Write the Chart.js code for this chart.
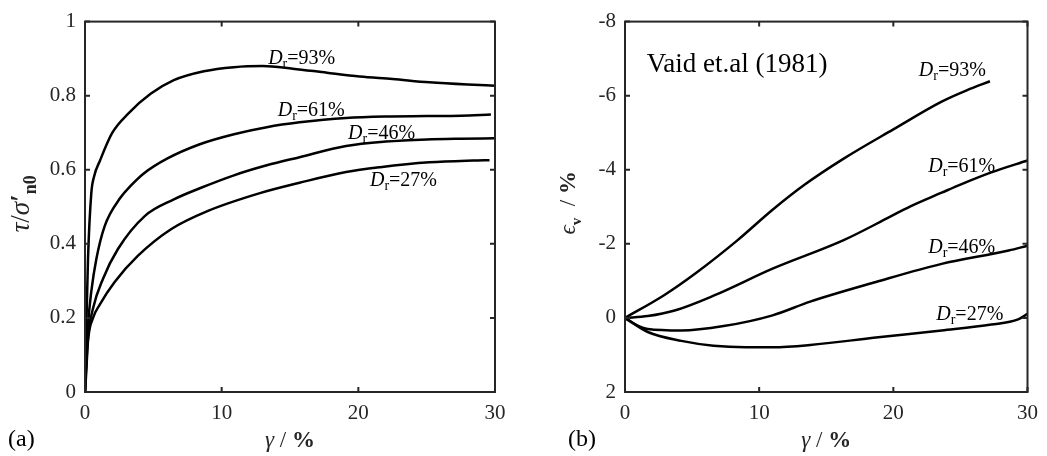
<!DOCTYPE html>
<html>
<head>
<meta charset="utf-8">
<script src="https://cdn.jsdelivr.net/npm/chart.js@4.4.1/dist/chart.umd.min.js"></script>
<style>
  html, body { margin: 0; padding: 0; background: #fff; }
  #wrap { position: relative; width: 1047px; height: 456px; overflow: hidden; }
  canvas { position: absolute; top: 0; }
  #chartA { left: 0; }
  #chartB { left: 523px; }
</style>
</head>
<body>
<div id="wrap">
  <canvas id="chartA" width="523" height="456"></canvas>
  <canvas id="chartB" width="524" height="456"></canvas>
</div>
<script>
// Relative densities of the four test series
const relDensity = [93, 61, 46, 27];

// (a) stress ratio tau / sigma'_n0 against shear strain gamma (%)
const gammaA93 = [0, 0.02, 0.1, 0.22, 0.46, 0.65, 1.1, 2.0, 3.2, 4.8, 6.5, 8.7, 10.9, 13.0, 15.2, 17.7, 20.1, 22.5, 25.2, 28.0, 30];
const tauA93   = [0, 0.04, 0.18, 0.36, 0.536, 0.58, 0.625, 0.70, 0.753, 0.805, 0.842, 0.866, 0.877, 0.880, 0.873, 0.862, 0.852, 0.845, 0.836, 0.830, 0.827];
const gammaA61 = [0, 0.05, 0.22, 0.46, 0.83, 1.44, 2.6, 3.3, 4.3, 6.0, 8.4, 10.9, 13.3, 15.7, 19.1, 22.0, 25.0, 27.5, 29.7];
const tauA61   = [0, 0.05, 0.18, 0.271, 0.359, 0.448, 0.525, 0.555, 0.59, 0.63, 0.669, 0.696, 0.715, 0.728, 0.740, 0.744, 0.745, 0.746, 0.749];
const gammaA46 = [0, 0.06, 0.22, 0.59, 1.32, 2.41, 4.37, 6.5, 8.4, 10.9, 13.3, 15.7, 19.1, 22.0, 25.0, 27.5, 30];
const tauA46   = [0, 0.05, 0.146, 0.226, 0.306, 0.386, 0.475, 0.52, 0.55, 0.585, 0.612, 0.634, 0.664, 0.676, 0.682, 0.684, 0.685];
const gammaA27 = [0, 0.07, 0.22, 0.59, 1.08, 2.17, 3.88, 6.32, 9.0, 12.8, 15.7, 19.1, 21.6, 25.2, 28.4, 29.6];
const tauA27   = [0, 0.04, 0.138, 0.2, 0.236, 0.297, 0.368, 0.44, 0.489, 0.537, 0.565, 0.594, 0.607, 0.62, 0.625, 0.626];

// (b) volumetric strain epsilon_v (%) against shear strain gamma (%)
const gammaB93 = [0, 2.94, 5.39, 8.33, 11.0, 13.4, 16.3, 20.0, 23.6, 25.5, 27.2];
const epsB93   = [0, -0.62, -1.24, -2.08, -2.92, -3.6, -4.3, -5.09, -5.84, -6.15, -6.39];
const gammaB61 = [0, 1.7, 3.7, 6.6, 11.0, 16.3, 19.7, 21.2, 23.6, 25.0, 27.3, 30];
const epsB61   = [0, -0.05, -0.2, -0.6, -1.33, -2.1, -2.72, -3.0, -3.38, -3.6, -3.93, -4.25];
const gammaB46 = [0, 0.8, 1.7, 4.2, 7.35, 11.0, 13.8, 18.7, 23.6, 28.6, 30];
const epsB46   = [0, 0.18, 0.3, 0.34, 0.22, -0.07, -0.44, -0.97, -1.46, -1.82, -1.95];
const gammaB27 = [0, 1.7, 4.2, 6.6, 9.0, 11.0, 13.8, 18.7, 23.6, 27.3, 29.3, 30];
const epsB27   = [0, 0.38, 0.62, 0.75, 0.79, 0.79, 0.73, 0.53, 0.34, 0.18, 0.04, -0.11];

// Tick values
const shearTicks  = [0, 10, 20, 30];
const stressTicks = [0, 0.2, 0.4, 0.6, 0.8, 1];
const volTicks    = [-8, -6, -4, -2, 0, 2];

const FONT = "'Liberation Serif', 'Times New Roman', 'DejaVu Serif', serif";
const AXIS_COLOR = '#262626';

function series(xs, ys) {
  return {
    data: xs.map((x, i) => ({ x: x, y: ys[i] })),
    borderColor: '#000',
    borderWidth: 2.5,
    pointRadius: 0,
    fill: false,
    cubicInterpolationMode: 'monotone'
  };
}

function fontOf(s) {
  return (s.style || '') + ' ' + (s.weight || '') + ' ' + s.size + 'px ' + FONT;
}

// Draw a run of differently styled pieces of text one after another
function drawRich(ctx, segs, x, y, align) {
  let total = 0;
  segs.forEach(s => { ctx.font = fontOf(s); s.w = ctx.measureText(s.text).width; total += s.w; });
  let cx = align === 'center' ? x - total / 2 : x;
  segs.forEach(s => {
    ctx.font = fontOf(s);
    ctx.fillText(s.text, cx, y + (s.dy || 0));
    cx += s.w;
  });
}

function densityLabel(d) {
  return [
    { text: 'D', style: 'italic', size: 20 },
    { text: 'r', size: 14, dy: 4 },
    { text: '=' + d + '%', size: 20 }
  ];
}

// Box, inward tick marks, titles and curve labels
const framePlugin = {
  id: 'frame',
  afterDatasetsDraw(chart, args, opts) {
    const { ctx, chartArea: a, scales: { x, y } } = chart;
    const len = 5;
    ctx.save();
    ctx.strokeStyle = AXIS_COLOR;
    ctx.lineWidth = 2;
    ctx.beginPath();
    x.ticks.forEach(t => {
      const p = x.getPixelForValue(t.value);
      ctx.moveTo(p, a.bottom); ctx.lineTo(p, a.bottom - len);
      ctx.moveTo(p, a.top); ctx.lineTo(p, a.top + len);
    });
    y.ticks.forEach(t => {
      const p = y.getPixelForValue(t.value);
      ctx.moveTo(a.left, p); ctx.lineTo(a.left + len, p);
      ctx.moveTo(a.right, p); ctx.lineTo(a.right - len, p);
    });
    ctx.stroke();
    ctx.strokeRect(a.left, a.top, a.right - a.left, a.bottom - a.top);
    ctx.restore();
  },
  afterDraw(chart, args, opts) {
    const { ctx, chartArea: a, scales: { x, y } } = chart;
    ctx.save();
    ctx.textBaseline = 'alphabetic';
    ctx.textAlign = 'left';
    ctx.fillStyle = '#000';

    // labels placed in data coordinates
    (opts.notes || []).forEach(n => {
      drawRich(ctx, n.segs, x.getPixelForValue(n.at[0]), y.getPixelForValue(n.at[1]), 'left');
    });

    ctx.fillStyle = AXIS_COLOR;
    // x-axis title
    drawRich(ctx, [
      { text: 'γ', style: 'italic', size: 23 },
      { text: ' / ', size: 23 },
      { text: '%', weight: 'bold', size: 23 }
    ], (a.left + a.right) / 2, a.bottom + opts.xTitleGap, 'center');

    // y-axis title, rotated
    ctx.save();
    ctx.translate(a.left - opts.yTitleGap, (a.top + a.bottom) / 2 + opts.yTitleShift);
    ctx.rotate(-Math.PI / 2);
    drawRich(ctx, opts.yTitle, 0, 0, 'center');
    ctx.restore();

    // panel letter
    ctx.fillStyle = '#000';
    drawRich(ctx, [{ text: opts.panel, size: 24 }], opts.panelX, opts.panelY, 'left');
    ctx.restore();
  }
};

function axisTicks(values) {
  return s => { s.ticks = values.map(v => ({ value: v })); };
}

const tickFont = { family: FONT, size: 21 };
const plainNumber = v => String(Number(Number(v).toFixed(2)));

function makeChart(id, datasets, cfg) {
  return new Chart(document.getElementById(id), {
    type: 'line',
    data: { datasets: datasets },
    options: {
      responsive: false,
      animation: false,
      devicePixelRatio: 1,
      layout: { padding: { top: 15, right: cfg.padRight, left: 0, bottom: 0 } },
      plugins: {
        legend: { display: false },
        tooltip: { enabled: false },
        frame: cfg.frame
      },
      scales: {
        x: {
          type: 'linear', min: 0, max: 30,
          afterBuildTicks: axisTicks(shearTicks),
          afterFit: s => { s.height = 64; },
          grid: { display: false, drawTicks: false },
          border: { display: false },
          ticks: { padding: 9, color: AXIS_COLOR, font: tickFont, maxRotation: 0, autoSkip: false, callback: plainNumber }
        },
        y: {
          type: 'linear', min: cfg.yMin, max: cfg.yMax, reverse: cfg.reverse,
          afterBuildTicks: axisTicks(cfg.yTicks),
          afterFit: s => { s.width = cfg.yWidth; },
          grid: { display: false, drawTicks: false },
          border: { display: false },
          ticks: { padding: 9, color: AXIS_COLOR, font: tickFont, autoSkip: false, callback: plainNumber }
        }
      }
    },
    plugins: [framePlugin]
  });
}

makeChart('chartA', [
  series(gammaA93, tauA93),
  series(gammaA61, tauA61),
  series(gammaA46, tauA46),
  series(gammaA27, tauA27)
], {
  padRight: 28, yWidth: 85, yMin: 0, yMax: 1, reverse: false, yTicks: stressTicks,
  frame: {
    xTitleGap: 55, yTitleGap: 56, yTitleShift: -3,
    panel: '(a)', panelX: 8, panelY: 446,
    yTitle: [
      { text: 'τ', style: 'italic', size: 27 },
      { text: '/', size: 27 },
      { text: 'σ', style: 'italic', size: 27 },
      { text: '′', weight: 'bold', size: 27 },
      { text: 'n0', weight: 'bold', size: 18, dy: 7 }
    ],
    notes: [
      { at: [13.4, 0.886], segs: densityLabel(relDensity[0]) },
      { at: [14.1, 0.745], segs: densityLabel(relDensity[1]) },
      { at: [19.25, 0.683], segs: densityLabel(relDensity[2]) },
      { at: [20.85, 0.556], segs: densityLabel(relDensity[3]) }
    ]
  }
});

makeChart('chartB', [
  series(gammaB93, epsB93),
  series(gammaB61, epsB61),
  series(gammaB46, epsB46),
  series(gammaB27, epsB27)
], {
  padRight: 14, yWidth: 102, yMin: -8, yMax: 2, reverse: true, yTicks: volTicks,
  frame: {
    xTitleGap: 55, yTitleGap: 50, yTitleShift: -4,
    panel: '(b)', panelX: 45, panelY: 446,
    yTitle: [
      { text: 'ϵ', style: 'italic', size: 23 },
      { text: 'v', weight: 'bold', size: 15, dy: 6 },
      { text: '  / ', size: 23 },
      { text: '%', weight: 'bold', size: 23 }
    ],
    notes: [
      { at: [1.62, -6.64], segs: [{ text: 'Vaid et.al (1981)', size: 27 }] },
      { at: [21.9, -6.53], segs: densityLabel(relDensity[0]) },
      { at: [22.6, -3.94], segs: densityLabel(relDensity[1]) },
      { at: [22.6, -1.75], segs: densityLabel(relDensity[2]) },
      { at: [23.2, 0.05], segs: densityLabel(relDensity[3]) }
    ]
  }
});
</script>
</body>
</html>
